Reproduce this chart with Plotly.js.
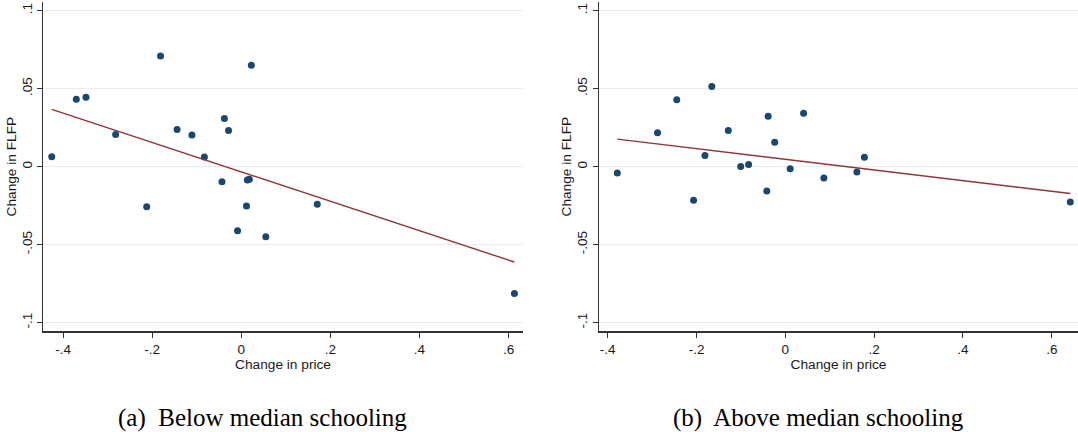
<!DOCTYPE html>
<html>
<head>
<meta charset="utf-8">
<script src="https://cdn.plot.ly/plotly-3.0.1.min.js"></script>
<style>
  html, body { margin: 0; padding: 0; background: #ffffff; }
  #chart { width: 1078px; height: 432px; }
</style>
</head>
<body>
<div id="chart"></div>
<script>
// Panel (a): below median schooling
const belowPrice = [-0.4256, -0.3705, -0.3488, -0.2822, -0.2124, -0.1814, -0.1442, -0.1109, -0.0829,
                    -0.0434, -0.0380, -0.0287, -0.0085, 0.0116, 0.0135, 0.0180, 0.0225, 0.0550, 0.1705, 0.6132];
const belowFLFP  = [0.0064, 0.0432, 0.0445, 0.0206, -0.0257, 0.0709, 0.0238, 0.0204, 0.0062,
                    -0.0096, 0.0309, 0.0232, -0.0411, -0.0251, -0.0085, -0.0081, 0.0651, -0.0449, -0.0240, -0.0813];
const belowFitX  = [-0.4256, 0.6132];
const belowFitY  = [0.0368, -0.0611];

// Panel (b): above median schooling
const abovePrice = [-0.3785, -0.2879, -0.2446, -0.2067, -0.1811, -0.1656, -0.1285, -0.1006, -0.0828,
                    -0.0418, -0.0387, -0.0240, 0.0108, 0.0410, 0.0867, 0.1610, 0.1780, 0.6416];
const aboveFLFP  = [-0.0040, 0.0217, 0.0430, -0.0215, 0.0072, 0.0515, 0.0232, 0.0002, 0.0015,
                    -0.0155, 0.0323, 0.0157, -0.0013, 0.0343, -0.0072, -0.0034, 0.0060, -0.0226];
const aboveFitX  = [-0.3785, 0.6416];
const aboveFitY  = [0.0177, -0.0172];

const xTickVals = [-0.4, -0.2, 0, 0.2, 0.4, 0.6];
const xTickText = ["-.4", "-.2", "0", ".2", ".4", ".6"];
const yTickVals = [-0.1, -0.05, 0, 0.05, 0.1];
const yTickText = ["-.1", "-.05", "0", ".05", ".1"];

const xTitle = "Change in price";
const yTitle = "Change in FLFP";
const captions = ["(a)\u00A0 Below median schooling", "(b)\u00A0 Above median schooling"];

const dotColor = "#1a476f";
const lineColor = "#90353b";
const sans = "Liberation Sans, Arial, Helvetica, sans-serif";
const serif = "Liberation Serif, Times New Roman, serif";

const traces = [
  {x: belowPrice, y: belowFLFP, xaxis: "x", yaxis: "y", mode: "markers", type: "scatter",
   marker: {color: dotColor, size: 7}, showlegend: false, hoverinfo: "x+y"},
  {x: belowFitX, y: belowFitY, xaxis: "x", yaxis: "y", mode: "lines", type: "scatter",
   line: {color: lineColor, width: 1.4}, showlegend: false},
  {x: abovePrice, y: aboveFLFP, xaxis: "x2", yaxis: "y2", mode: "markers", type: "scatter",
   marker: {color: dotColor, size: 7}, showlegend: false, hoverinfo: "x+y"},
  {x: aboveFitX, y: aboveFitY, xaxis: "x2", yaxis: "y2", mode: "lines", type: "scatter",
   line: {color: lineColor, width: 1.4}, showlegend: false}
];

function xAxis(domain, range, anchor) {
  return {
    domain: domain, range: range, anchor: anchor,
    tickmode: "array", tickvals: xTickVals, ticktext: xTickText,
    ticks: "outside", ticklen: 5, tickwidth: 1, tickcolor: "#333333",
    showline: true, linecolor: "#333333", linewidth: 1.2,
    showgrid: false, zeroline: false, automargin: false,
    tickfont: {family: sans, size: 13.5, color: "#1a1a1a"},
    title: {text: xTitle, font: {family: sans, size: 13.7, color: "#1a1a1a"}, standoff: 0}
  };
}
function yAxis(anchor) {
  return {
    domain: [0.2331, 0.9954], range: [-0.1055, 0.1056], anchor: anchor,
    tickmode: "array", tickvals: yTickVals, ticktext: yTickText, tickangle: -90,
    ticks: "outside", ticklen: 5, tickwidth: 1, tickcolor: "#333333",
    showline: true, linecolor: "#333333", linewidth: 1.2,
    showgrid: true, gridcolor: "#e6eef0", gridwidth: 1,
    zeroline: false, automargin: false,
    tickfont: {family: sans, size: 13.5, color: "#1a1a1a"},
    title: {text: yTitle, font: {family: sans, size: 13.7, color: "#1a1a1a"}, standoff: 0}
  };
}

const layout = {
  width: 1078, height: 432,
  margin: {l: 0, r: 0, t: 0, b: 0},
  paper_bgcolor: "#ffffff", plot_bgcolor: "#ffffff",
  showlegend: false,
  xaxis: xAxis([0.0402, 0.4849], [-0.4445, 0.6318], "y"),
  yaxis: yAxis("x"),
  xaxis2: xAxis([0.5557, 1.0], [-0.4196, 0.659], "y2"),
  yaxis2: yAxis("x2"),
  annotations: [
    {text: captions[0], xref: "paper", yref: "paper", x: 262.8 / 1078, y: (432 - 418) / 432,
     xanchor: "center", yanchor: "middle", showarrow: false,
     font: {family: serif, size: 25, color: "#000000"}},
    {text: captions[1], xref: "paper", yref: "paper", x: 818.8 / 1078, y: (432 - 418) / 432,
     xanchor: "center", yanchor: "middle", showarrow: false,
     font: {family: serif, size: 25, color: "#000000"}}
  ]
};

Plotly.newPlot("chart", traces, layout, {displayModeBar: false, staticPlot: true});
</script>
</body>
</html>
